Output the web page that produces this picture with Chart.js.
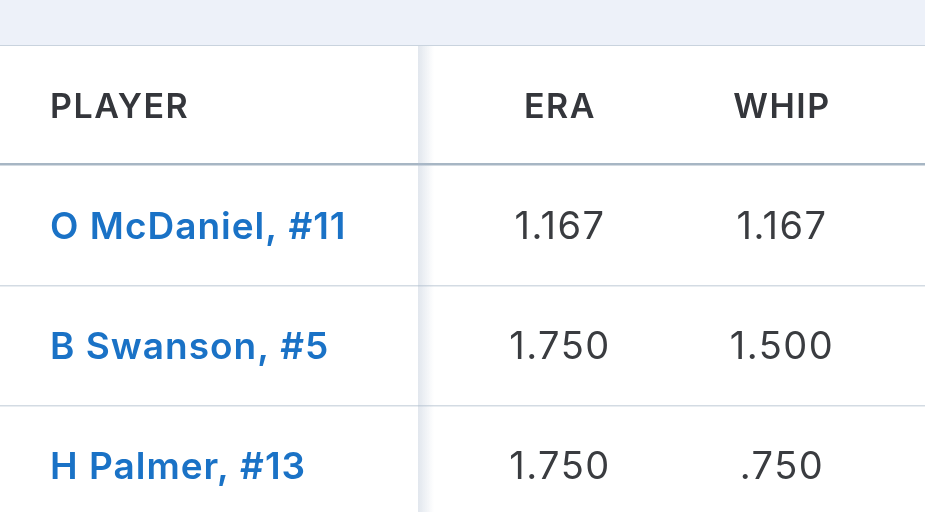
<!DOCTYPE html>
<html><head><meta charset="utf-8">
<script src="https://cdn.jsdelivr.net/npm/chart.js@4/dist/chart.umd.min.js"></script>
<style>html,body{margin:0;padding:0;background:#fff}#wrap{width:925px;height:512px}</style>
</head><body><div id="wrap"><canvas id="c"></canvas></div>
<script>
const headers = ['PLAYER', 'ERA', 'WHIP'];
const players = ['O McDaniel, #11', 'B Swanson, #5', 'H Palmer, #13'];
const era = ['1.167', '1.750', '1.750'];
const whip = ['1.167', '1.500', '.750'];

// column layout: [anchor x, alignment]
const colX = [50, 560, 782];
const colAlign = ['left', 'center', 'center'];

const cells = [];
headers.forEach((h, c) => cells.push({x: c, y: 0, t: h, kind: 'head'}));
players.forEach((p, r) => {
  cells.push({x: 0, y: r + 1, t: p, kind: 'name'});
  cells.push({x: 1, y: r + 1, t: era[r], kind: 'num'});
  cells.push({x: 2, y: r + 1, t: whip[r], kind: 'num'});
});

const tablePlugin = {
  id: 'table',
  beforeDraw(chart) {
    const ctx = chart.ctx, ys = chart.scales.y, W = chart.width;
    ctx.save();
    ctx.fillStyle = '#edf1f9';
    ctx.fillRect(0, 0, W, ys.top);
    ctx.fillStyle = '#c9d3de';
    ctx.fillRect(0, ys.top - 1, W, 1);
    for (let r = 0; r < players.length; r++) {
      const y = ys.getPixelForValue(r + 0.5);
      ctx.fillStyle = r === 0 ? '#a7b6c4' : '#d3dbe3';
      ctx.fillRect(0, Math.round(y) - (r === 0 ? 3 : 1), W, r === 0 ? 2.5 : 1.5);
    }
    const g = ctx.createLinearGradient(418, 0, 434, 0);
    g.addColorStop(0, 'rgba(170,185,205,0.35)');
    g.addColorStop(1, 'rgba(170,185,205,0)');
    ctx.fillStyle = g;
    ctx.fillRect(418, ys.top, 16, chart.height - ys.top);
    ctx.restore();
  },
  afterDatasetsDraw(chart) {
    const ctx = chart.ctx, ys = chart.scales.y;
    const meta = chart.getDatasetMeta(0);
    ctx.save();
    ctx.textBaseline = 'middle';
    meta.data.forEach((pt, i) => {
      const c = cells[i];
      const y = ys.getPixelForValue(c.y);
      if (c.kind === 'head') {
        ctx.font = '600 34px Inter, Roboto, sans-serif';
        ctx.fillStyle = '#34363b';
        ctx.letterSpacing = '1.5px';
      } else if (c.kind === 'name') {
        ctx.font = '600 37px Inter, Roboto, sans-serif';
        ctx.fillStyle = '#1a72c6';
        ctx.letterSpacing = '1px';
      } else {
        ctx.font = '400 38px Inter, Roboto, sans-serif';
        ctx.fillStyle = '#3a3c40';
        ctx.letterSpacing = '1.5px';
      }
      ctx.textAlign = colAlign[c.x];
      ctx.fillText(c.t, colX[c.x], y + 2);
    });
    ctx.restore();
  }
};

new Chart(document.getElementById('c'), {
  type: 'scatter',
  data: { datasets: [{ data: cells.map(c => ({x: c.x, y: c.y})), pointRadius: 0 }] },
  options: {
    responsive: true, maintainAspectRatio: false, animation: false,
    layout: { padding: { top: 46, left: 0, right: 0, bottom: 0 } },
    plugins: { legend: { display: false }, tooltip: { enabled: false } },
    scales: {
      x: { display: false, min: -0.5, max: 2.5 },
      y: { display: false, reverse: true, min: -0.5, max: 3.383 }
    }
  },
  plugins: [tablePlugin]
});
</script></body></html>
